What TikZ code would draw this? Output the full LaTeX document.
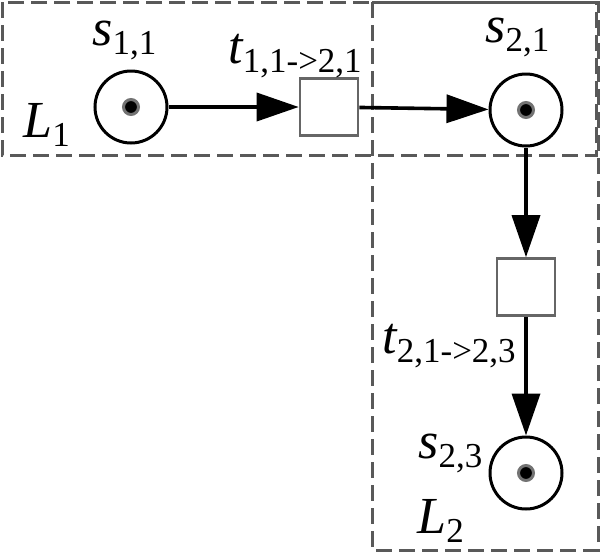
\documentclass[tikz,border=0pt]{standalone}
\usepackage{fontspec}
\usetikzlibrary{arrows.meta,positioning}
\newcommand\petrilbl[2]{\fontspec{Liberation Serif}{\fontsize{26}{30}\selectfont\itshape #1}\raisebox{-4.5pt}{\fontsize{17.5}{20}\selectfont #2}}

\begin{document}
\begin{tikzpicture}[x=0.5pt,y=-0.5pt,
  place/.style={circle,draw,line width=1.5pt,minimum size=36pt,inner sep=0pt},
  trans/.style={rectangle,draw=black!60,line width=1.3pt,minimum width=29pt,minimum height=28.5pt,inner sep=0pt},
  token/.style={circle,fill=black,draw=black!55,line width=1.5pt,minimum size=7.5pt,inner sep=0pt},
  arc/.style={-{Triangle[length=21pt,width=14pt]},line width=1.8pt},
  zone/.style={draw=black!65,line width=1.5pt,dash pattern=on 8pt off 3.5pt},
  lbl/.style={inner sep=0pt,anchor=base west}]
\useasboundingbox (0,0) rectangle (600,552);
% zones
\draw[zone] (2,2) rectangle (596,155);
\draw[zone] (372,2) rectangle (598,550);
\node[lbl] (L1) at (23,137) {\petrilbl{L}{1}};
\node[lbl] (L2) at (417,533) {\petrilbl{L}{2}};
% places and transitions
\node[place] (s11) at (131,107) {};
\node[token] (k11) at (s11) {};
\node[trans] (t1) at (329,107) {};
\node[place] (s21) at (526,110) {};
\node[token] (k21) at (s21) {};
\node[trans] (t2) at (526,287) {};
\node[place] (s23) at (526,473) {};
\node[token] (k23) at (s23) {};
% labels
\node[lbl] (ls11) at (92,45) {\petrilbl{s}{1,1}};
\node[lbl] (lt1) at (228,63) {\petrilbl{t}{1,1->2,1}};
\node[lbl] (ls21) at (485,42) {\petrilbl{s}{2,1}};
\node[lbl] (lt2) at (382,353) {\petrilbl{t}{2,1->2,3}};
\node[lbl] (ls23) at (418,458) {\petrilbl{s}{2,3}};
% arcs
\draw[arc] (s11) -- (t1);
\draw[arc] (t1) -- (s21);
\draw[arc] (s21) -- (t2);
\draw[arc] (t2) -- (s23);
\end{tikzpicture}
\end{document}
